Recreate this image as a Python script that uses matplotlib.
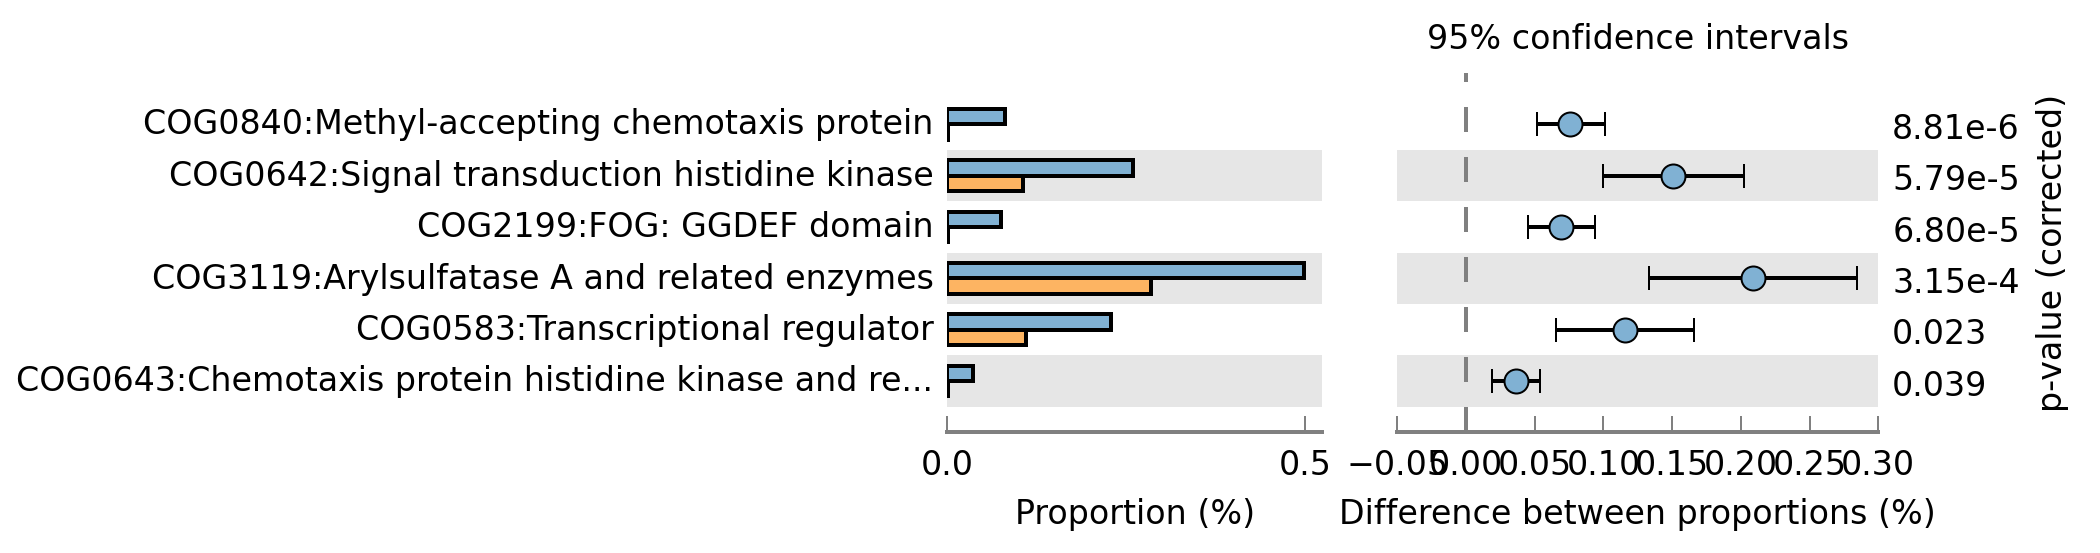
import matplotlib.pyplot as plt
import matplotlib.transforms as mtransforms

features = ['COG0840:Methyl-accepting chemotaxis protein',
            'COG0642:Signal transduction histidine kinase',
            'COG2199:FOG: GGDEF domain',
            'COG3119:Arylsulfatase A and related enzymes',
            'COG0583:Transcriptional regulator',
            'COG0643:Chemotaxis protein histidine kinase and re...']
group1 = [0.0806, 0.2596, 0.0746, 0.4986, 0.2293, 0.0359]
group2 = [0.0010, 0.1058, 0.0010, 0.2852, 0.1105, 0.0008]
diff = [0.0754, 0.1505, 0.0694, 0.2088, 0.1156, 0.0360]
ci_low = [0.0513, 0.0996, 0.0452, 0.1334, 0.0658, 0.0190]
ci_high = [0.1010, 0.2021, 0.0935, 0.2846, 0.1661, 0.0537]
pvalues = ['8.81e-6', '5.79e-5', '6.80e-5', '3.15e-4', '0.023', '0.039']

blue = '#80b1d3'
orange = '#fdb462'
grey = '#808080'

plt.rcParams['font.size'] = 8.3
plt.rcParams['font.family'] = 'DejaVu Sans'

fig = plt.figure(figsize=(2100.2 / 288, 553.2 / 288), dpi=288)
H = 553.0
W = 2100.0
bottom = 1 - 432.5 / H
height = (432.5 - 73.0) / H
ax1 = fig.add_axes([947.3 / W, bottom, (1322 - 947.3) / W, height])
ax2 = fig.add_axes([1397.3 / W, bottom, (1878 - 1397.3) / W, height])

y = list(range(len(features)))

for ax in (ax1, ax2):
    for i in y:
        if i % 2 == 1:
            ax.axhspan(i - 0.5, i + 0.5, color='0.9', lw=0, zorder=0)
    ax.set_ylim(len(features), -1)
    for s in ('left', 'top', 'right'):
        ax.spines[s].set_visible(False)
    ax.spines['bottom'].set_color(grey)
    ax.spines['bottom'].set_linewidth(1.0)
    ax.tick_params(axis='x', direction='in', length=4, width=0.5, color=grey, pad=4)
    ax.tick_params(axis='y', length=0, pad=3.5)

# proportions
ax1.barh([i - 0.15 for i in y], group1, height=0.3, color=blue, edgecolor='k', lw=1.0, zorder=2)
ax1.barh([i + 0.15 for i in y], group2, height=0.3, color=orange, edgecolor='k', lw=1.0, zorder=2)
ax1.set_xlim(0, 0.524)
ax1.set_xticks([0.0, 0.5])
ax1.set_yticks(y)
ax1.set_yticklabels(features)
ax1.set_xlabel('Proportion (%)')

# differences with confidence intervals
xerr = [[d - lo for d, lo in zip(diff, ci_low)], [hi - d for d, hi in zip(diff, ci_high)]]
ax2.axvline(0, color=grey, lw=1.0, ls=(0, (6.25, 6.25)), zorder=1)
ax2.errorbar(diff, y, xerr=xerr, fmt='o', ms=6, mfc=blue, mec='k', mew=0.5,
             ecolor='k', elinewidth=1.0, capsize=3, capthick=0.5, zorder=3)
ax2.set_xlim(-0.05, 0.30)
ax2.set_xticks([-0.05, 0.0, 0.05, 0.10, 0.15, 0.20, 0.25, 0.30])
ax2.set_yticks([])
ax2.set_xlabel('Difference between proportions (%)')
ax2.set_title('95% confidence intervals', fontsize=8.3, pad=6)

ax3 = ax2.twinx()
ax3.set_ylim(len(features), -1)
ax3.set_yticks(y)
ax3.set_yticklabels(pvalues)
ax3.tick_params(axis='y', length=0, pad=3.5)
for s in ax3.spines.values():
    s.set_visible(False)
ax3.set_ylabel('p-value (corrected)')

# small vertical nudges of the row labels
up = mtransforms.ScaledTranslation(0, 3.0 / 288, fig.dpi_scale_trans)
down = mtransforms.ScaledTranslation(0, -1.5 / 288, fig.dpi_scale_trans)
for lab in ax1.get_yticklabels():
    lab.set_transform(lab.get_transform() + up)
for lab in ax3.get_yticklabels():
    lab.set_transform(lab.get_transform() + down)

plt.savefig('out.png', dpi=288)
